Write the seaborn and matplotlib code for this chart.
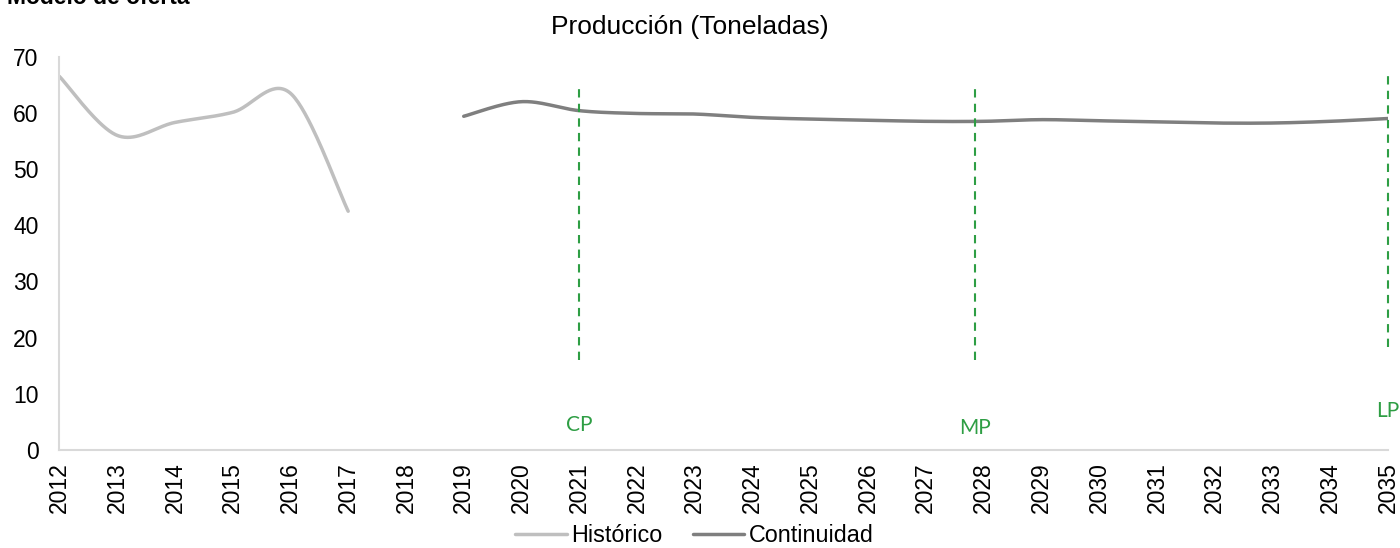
import numpy as np
import pandas as pd
import matplotlib
matplotlib.use("Agg")
import matplotlib.pyplot as plt
import seaborn as sns

# data
hist_years = [2012, 2013, 2014, 2015, 2016, 2017]
hist_values = [66.5, 56.0, 58.3, 60.1, 63.5, 42.5]
cont_years = list(range(2019, 2036))
cont_values = [59.4, 62.0, 60.4, 59.9, 59.8, 59.2, 58.9, 58.7, 58.5,
               58.5, 58.8, 58.6, 58.4, 58.2, 58.2, 58.5, 59.0]
year_ticks = list(range(2012, 2036))

# horizon markers (short / medium / long term)
horizon_labels = ["CP", "MP", "LP"]
horizon_x = [2021, 2027.85, 2035]
horizon_top = [64.5, 64.5, 67.7]
horizon_bottom = [16.0, 16.0, 18.3]
horizon_label_y = [4.4, 3.9, 6.9]

GRAY_LIGHT = "#BFBFBF"
GRAY_DARK = "#7F7F7F"
GREEN = "#2E9E44"


def smooth(x, y, steps=40):
    # Excel-style smoothed line: cubic Bezier segments through the points
    x = np.asarray(x, float)
    y = np.asarray(y, float)
    px = np.r_[x[0], x, x[-1]]
    py = np.r_[y[0], y, y[-1]]
    t = np.linspace(0, 1, steps)
    xs, ys = [], []
    for i in range(1, len(px) - 2):
        p0 = np.array([px[i], py[i]])
        p1 = np.array([px[i + 1], py[i + 1]])
        c1 = p0 + (p1 - np.array([px[i - 1], py[i - 1]])) / 6
        c2 = p1 - (np.array([px[i + 2], py[i + 2]]) - p0) / 6
        b = ((1 - t) ** 3)[:, None] * p0 + (3 * (1 - t) ** 2 * t)[:, None] * c1 \
            + (3 * (1 - t) * t ** 2)[:, None] * c2 + (t ** 3)[:, None] * p1
        xs.extend(b[:, 0])
        ys.extend(b[:, 1])
    return xs, ys


hx, hy = smooth(hist_years, hist_values)
cx, cy = smooth(cont_years, cont_values)
df = pd.concat([
    pd.DataFrame({"year": hx, "value": hy, "serie": "Histórico"}),
    pd.DataFrame({"year": cx, "value": cy, "serie": "Continuidad"}),
])

sns.set_style("white")
plt.rcParams["font.family"] = ["Liberation Sans", "DejaVu Sans"]
plt.rcParams["text.color"] = "black"

fig = plt.figure(figsize=(14, 5.48), dpi=100)
ax = fig.add_axes([0.0424, 0.1788, 0.949, 0.7177])

sns.lineplot(data=df, x="year", y="value", hue="serie", units="serie",
             estimator=None, sort=False, linewidth=2.5,
             palette={"Histórico": GRAY_LIGHT, "Continuidad": GRAY_DARK}, ax=ax)

for lab, x, top, bot, ly in zip(horizon_labels, horizon_x, horizon_top,
                                horizon_bottom, horizon_label_y):
    ax.plot([x, x], [bot, top], color=GREEN, linestyle=(0, (4, 3)),
            linewidth=1.5, clip_on=False)
    ax.text(x, ly, lab, color=GREEN, ha="center", va="center",
            fontsize=15, family=["Lato", "DejaVu Sans"], clip_on=False)

ax.set_xlim(2012, 2035)
ax.set_ylim(0, 70)
ax.set_xticks(year_ticks)
ax.set_xticklabels([str(y) for y in year_ticks], rotation=90)
ax.set_yticks(range(0, 71, 10))
ax.tick_params(axis="both", length=0, labelsize=16.5, colors="black")
ax.tick_params(axis="y", pad=15)
ax.tick_params(axis="x", pad=9)
ax.set_xlabel("")
ax.set_ylabel("")

sns.despine(ax=ax)
for side in ["left", "bottom"]:
    ax.spines[side].set_color("#D9D9D9")
    ax.spines[side].set_linewidth(1.5)

sns.move_legend(ax, "center", bbox_to_anchor=(0.478, -0.218), ncol=2,
                frameon=False, title=None, fontsize=16.8, handlelength=2.2,
                handletextpad=0.2, columnspacing=1.3, borderpad=0.2)
for txt in ax.get_legend().get_texts():
    txt.set_color("black")

fig.text(690 / 1400, 1 - 27 / 548, "Producción (Toneladas)", ha="center",
         va="center", fontsize=19, color="black")
fig.text(190 / 1400, 1 - 4 / 548, "Modelo de oferta", ha="right",
         va="baseline", fontsize=16.5, fontweight="bold", color="black")

fig.savefig("out.png", dpi=100)
